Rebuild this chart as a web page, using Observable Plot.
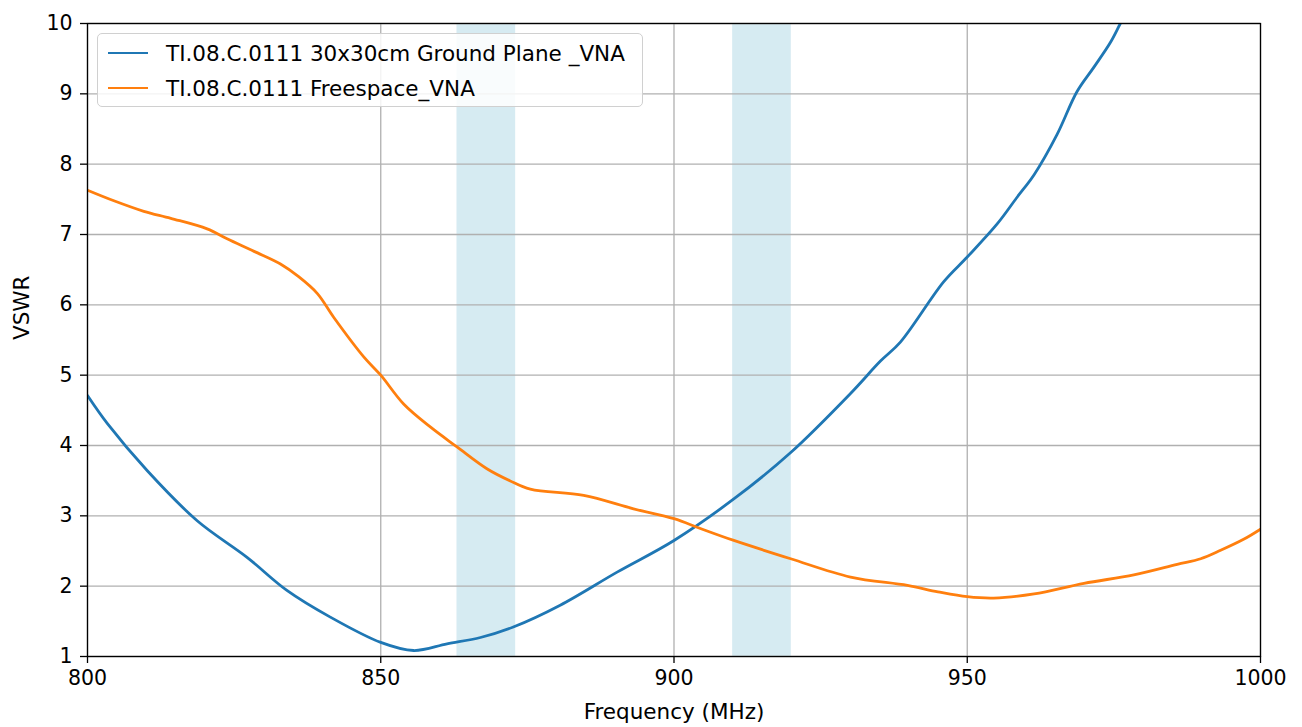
<!DOCTYPE html>
<html>
<head>
<meta charset="utf-8">
<script src="https://cdn.jsdelivr.net/npm/d3@7"></script>
<script src="https://cdn.jsdelivr.net/npm/@observablehq/plot@0.6"></script>
<style>
  html, body { margin: 0; padding: 0; background: white; }
  #wrap { position: relative; width: 1302px; height: 727px; font-family: "DejaVu Sans", sans-serif; }
  #legend { position: absolute; left: 97px; top: 33px; width: 546px; height: 74px;
    border: 1.3px solid #d0d0d0; border-radius: 5px; background: rgba(255,255,255,0.85);
    box-sizing: border-box; font-size: 21.5px; color: #000; }
  .entry { position: absolute; left: 10px; height: 26px; display: flex; align-items: center; }
  .swatch { width: 40px; height: 0; border-top: 2.8px solid; margin-right: 18px; }
</style>
</head>
<body>
<div id="wrap">
  <div id="chart"></div>
  <div id="legend"></div>
</div>
<script>
const seriesNames = ["TI.08.C.0111 30x30cm Ground Plane _VNA", "TI.08.C.0111 Freespace_VNA"];
const seriesColors = ["#1f77b4", "#ff7f0e"];

const groundFreq = [800, 803.4, 810.2, 818.7, 827.2, 834.0, 841.4, 850, 855.6, 861.3, 867, 872.6, 880.6, 890.3, 900, 910.2, 919.9, 930.1, 935.2, 938.6, 946.0, 950, 955.1, 958.5, 961.4, 965.3, 968.7, 971.6, 974.4, 976.1, 978];
const groundVswr = [4.71, 4.31, 3.64, 2.93, 2.41, 1.94, 1.56, 1.20, 1.085, 1.18, 1.27, 1.42, 1.73, 2.20, 2.65, 3.24, 3.90, 4.74, 5.2, 5.47, 6.33, 6.68, 7.15, 7.53, 7.85, 8.42, 9.03, 9.38, 9.73, 10.0, 10.3];

const freeFreq = [800, 804.5, 809.6, 814.2, 820.4, 823.8, 828.4, 832.9, 836, 839.2, 842.0, 847.1, 850, 853.9, 858.5, 863, 868.1, 872, 875.5, 884.6, 893.1, 900, 904.5, 910.2, 919.9, 930.1, 939.8, 945, 950, 954.5, 961.4, 969.9, 978.4, 985.8, 989.8, 993.2, 997.2, 1000];
const freeVswr = [7.63, 7.48, 7.33, 7.23, 7.08, 6.94, 6.76, 6.58, 6.40, 6.16, 5.82, 5.26, 5.00, 4.59, 4.26, 3.98, 3.67, 3.50, 3.38, 3.29, 3.10, 2.96, 2.82, 2.65, 2.39, 2.13, 2.01, 1.92, 1.85, 1.83, 1.89, 2.04, 2.16, 2.31, 2.39, 2.51, 2.67, 2.81];

const bandStart = [863, 910];
const bandEnd = [873, 920];

const xTicks = [800, 850, 900, 950, 1000];
const yTicks = [1, 2, 3, 4, 5, 6, 7, 8, 9, 10];

const ground = groundFreq.map((f, i) => ({f, v: groundVswr[i]}));
const free = freeFreq.map((f, i) => ({f, v: freeVswr[i]}));
const bands = bandStart.map((s, i) => ({s, e: bandEnd[i]}));

const chart = Plot.plot({
  width: 1302, height: 727,
  marginLeft: 87, marginRight: 42, marginTop: 23, marginBottom: 71,
  style: {fontFamily: "DejaVu Sans, sans-serif", fontSize: "20.5px", color: "#000", background: "white", overflow: "visible"},
  x: {domain: [800, 1000]},
  y: {domain: [1, 10]},
  marks: [
    Plot.rect(bands, {x1: "s", x2: "e", y1: 1, y2: 10, fill: "lightblue", fillOpacity: 0.5}),
    Plot.gridX(xTicks, {stroke: "#b0b0b0", strokeOpacity: 1, strokeWidth: 1.3}),
    Plot.gridY(yTicks, {stroke: "#b0b0b0", strokeOpacity: 1, strokeWidth: 1.3}),
    Plot.line(ground, {x: "f", y: "v", stroke: seriesColors[0], strokeWidth: 2.8, curve: "catmull-rom", clip: true}),
    Plot.line(free, {x: "f", y: "v", stroke: seriesColors[1], strokeWidth: 2.8, curve: "catmull-rom", clip: true}),
    Plot.frame({stroke: "#000", strokeWidth: 1.3}),
    Plot.axisX(xTicks, {tickSize: 7, tickPadding: 7, strokeWidth: 1.3, fontSize: 20.5, tickFormat: d => String(d), label: null}),
    Plot.axisY(yTicks, {tickSize: 7, tickPadding: 8, strokeWidth: 1.3, fontSize: 20.5, tickFormat: d => String(d), label: null}),
    Plot.text(["Frequency (MHz)"], {frameAnchor: "bottom", dy: 56, fontSize: 21.5, lineAnchor: "middle", fill: "#000"}),
    Plot.text(["VSWR"], {frameAnchor: "left", dx: -65, rotate: -90, fontSize: 21.5, fill: "#000"})
  ]
});
document.getElementById("chart").appendChild(chart);

const legend = document.getElementById("legend");
seriesNames.forEach((name, i) => {
  const e = document.createElement("div");
  e.className = "entry";
  e.style.top = (6 + i * 35) + "px";
  const sw = document.createElement("div");
  sw.className = "swatch";
  sw.style.borderTopColor = seriesColors[i];
  const t = document.createElement("span");
  t.textContent = name;
  e.appendChild(sw); e.appendChild(t);
  legend.appendChild(e);
});
</script>
</body>
</html>
